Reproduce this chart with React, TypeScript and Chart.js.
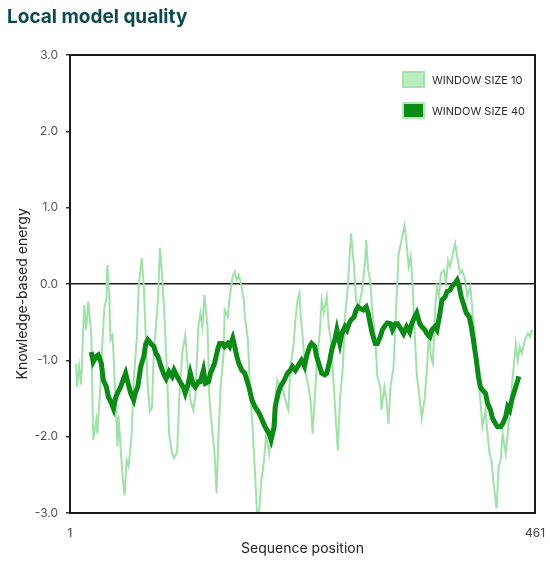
import React, { useEffect, useRef } from "react";
import { Chart, registerables } from "chart.js";

Chart.register(...registerables);

// sequence positions / energies
const win10Pos = [
  7, 8, 10, 12, 15, 17, 19, 22, 24, 27, 28, 31, 33, 35, 37, 38, 40, 41, 43, 44,
  46, 48, 49, 51, 53, 55, 57, 59, 62, 64, 67, 69, 72, 74, 76, 78, 80, 82, 84, 86,
  88, 90, 92, 94, 97, 99, 102, 104, 107, 109, 112, 115, 118, 120, 123, 125, 128, 130, 132, 134,
  137, 139, 142, 144, 146, 148, 150, 153, 154, 157, 159, 162, 164, 166, 168, 170, 173, 174, 177, 179,
  182, 184, 186, 188, 190, 193, 195, 198, 200, 203, 206, 209, 211, 214, 217, 219, 222, 224, 226, 228,
  229, 232, 234, 237, 239, 241, 243, 245, 248, 250, 252, 255, 257, 259, 262, 264, 266, 268, 271, 273,
  275, 277, 279, 282, 284, 286, 288, 290, 293, 294, 296, 298, 300, 303, 305, 308, 309, 312, 314, 316,
  318, 321, 324, 326, 329, 332, 334, 336, 338, 340, 342, 344, 347, 349, 352, 354, 356, 358, 360, 362,
  364, 366, 368, 371, 373, 375, 377, 379, 382, 384, 387, 389, 392, 394, 397, 399, 402, 404, 407, 409,
  412, 414, 416, 418, 420, 423, 425, 427, 429, 432, 434, 436, 438, 440, 442, 444, 446, 448, 451, 454,
  456, 458,
];
const win10Energy = [
  -1.04, -1.35, -1.08, -1.32, -0.28, -0.6, -0.23, -0.64, -2.04, -1.78, -1.96, -1.35, -0.78, -0.3, -0.21, 0.25, -0.21, -0.73, -0.67, -0.9,
  -1.52, -2.13, -1.72, -2.13, -2.52, -2.77, -2.31, -2.39, -1.96, -1.26, -0.73, -0.03, 0.34, -0.03, -0.73, -1.35, -1.67, -1.63, -0.86, -0.56,
  -0.21, 0.47, 0.14, -0.3, -1.17, -1.96, -2.22, -2.28, -2.2, -1.52, -0.91, -0.67, -1.17, -1.52, -1.65, -1.48, -0.56, -0.38, -0.56, -0.14,
  -0.56, -1.52, -1.96, -2.22, -2.74, -1.96, -1.35, -0.91, -0.34, -0.43, -0.17, 0.1, 0.16, 0.05, 0.12, 0.01, -0.21, -0.43, -0.73, -1.35,
  -1.96, -2.48, -2.98, -3.0, -2.61, -2.31, -1.96, -2.22, -1.96, -1.61, -1.26, -1.35, -1.35, -1.52, -1.65, -1.08, -0.82, -0.47, -0.21, -0.12,
  -0.38, -0.82, -1.17, -1.35, -1.52, -1.96, -1.52, -1.08, -0.65, -0.21, -0.38, -0.17, -0.56, -0.73, -1.35, -1.78, -2.18, -1.52, -1.08, -0.43,
  -0.17, 0.23, 0.66, 0.23, -0.21, -0.34, -0.21, -0.08, 0.31, 0.58, 0.18, 0.05, -0.34, -0.73, -1.21, -1.35, -1.65, -1.35, -1.52, -1.83,
  -1.35, -1.1, -0.2, 0.38, 0.58, 0.77, 0.53, 0.23, 0.36, -0.03, -0.65, -1.17, -1.52, -1.76, -1.48, -1.13, -0.65, -0.95, -1.04, -0.38,
  -0.03, -0.17, 0.14, 0.18, 0.01, 0.31, 0.23, 0.36, 0.53, 0.36, 0.14, 0.18, 0.05, -0.17, -0.03, -0.34, -0.73, -1.21, -1.52, -1.87,
  -1.65, -1.96, -2.22, -2.31, -2.61, -2.94, -2.39, -2.31, -1.96, -2.22, -1.96, -1.69, -1.35, -1.08, -0.78, -1.0, -0.82, -0.91, -0.73, -0.65,
  -0.69, -0.6,
];

const win40Pos = [
  22, 24, 27, 29, 32, 34, 37, 39, 42, 44, 46, 48, 51, 54, 56, 58, 61, 64, 66, 68,
  71, 74, 76, 78, 81, 84, 86, 88, 91, 94, 96, 99, 102, 104, 107, 109, 113, 115, 118, 120,
  123, 125, 128, 130, 133, 135, 138, 140, 144, 147, 149, 152, 154, 157, 159, 162, 164, 166, 168, 171,
  174, 176, 178, 181, 184, 188, 191, 194, 198, 200, 203, 204, 207, 209, 213, 216, 219, 221, 224, 228,
  230, 233, 235, 238, 240, 243, 245, 248, 250, 253, 255, 258, 260, 263, 265, 268, 270, 273, 275, 277,
  279, 282, 284, 286, 288, 291, 294, 296, 298, 300, 303, 305, 308, 310, 313, 315, 318, 320, 323, 325,
  328, 331, 334, 337, 339, 342, 344, 347, 349, 352, 354, 357, 359, 362, 364, 367, 369, 372, 374, 377,
  379, 382, 384, 386, 388, 390, 393, 396, 398, 400, 403, 405, 407, 409, 412, 414, 417, 419, 422, 424,
  427, 429, 432, 434, 436, 438, 441, 444, 445,
];
const win40Energy = [
  -0.89, -1.02, -0.95, -0.93, -1.04, -1.26, -1.35, -1.48, -1.56, -1.63, -1.5, -1.43, -1.35, -1.24, -1.17, -1.28, -1.43, -1.52, -1.41, -1.35,
  -1.08, -0.95, -0.78, -0.73, -0.78, -0.82, -0.91, -0.95, -1.08, -1.19, -1.24, -1.15, -1.21, -1.13, -1.21, -1.26, -1.35, -1.43, -1.3, -1.17,
  -1.32, -1.35, -1.28, -1.28, -1.13, -1.3, -1.28, -1.17, -1.04, -0.86, -0.78, -0.78, -0.82, -0.78, -0.82, -0.71, -0.82, -0.95, -1.04, -1.13,
  -1.17, -1.26, -1.35, -1.52, -1.61, -1.69, -1.78, -1.87, -1.96, -2.04, -1.87, -1.61, -1.43, -1.35, -1.26, -1.17, -1.13, -1.08, -1.13, -1.04,
  -1.0, -1.08, -0.95, -0.82, -0.78, -0.82, -0.95, -1.08, -1.17, -1.19, -1.17, -1.0, -0.86, -0.73, -0.6, -0.78, -0.65, -0.56, -0.6, -0.52,
  -0.47, -0.43, -0.34, -0.3, -0.32, -0.34, -0.3, -0.38, -0.52, -0.65, -0.78, -0.78, -0.69, -0.6, -0.54, -0.51, -0.52, -0.6, -0.52, -0.52,
  -0.58, -0.65, -0.56, -0.63, -0.52, -0.43, -0.38, -0.52, -0.56, -0.6, -0.65, -0.69, -0.6, -0.56, -0.6, -0.38, -0.21, -0.17, -0.1, -0.08,
  -0.03, 0.01, 0.05, -0.03, -0.17, -0.25, -0.38, -0.43, -0.56, -0.73, -1.0, -1.21, -1.35, -1.39, -1.43, -1.56, -1.65, -1.76, -1.83, -1.87,
  -1.87, -1.83, -1.74, -1.61, -1.65, -1.52, -1.39, -1.26, -1.21,
];

const xTicks = [1, 461];
const yTicks = [-3, -2, -1, 0, 1, 2, 3];

const LIGHT = "#a0e1aa";
const DARK = "#0b8a16";
const FRAME = "#1a1a1a";
const FONT = "Inter, 'Noto Sans', sans-serif";

// black frame round the plot area
const framePlugin = {
  id: "frameBox",
  afterDraw(chart: any) {
    const { ctx, chartArea } = chart;
    if (!chartArea) return;
    const { left, top, right, bottom } = chartArea;
    ctx.save();
    ctx.strokeStyle = FRAME;
    ctx.lineWidth = 2;
    ctx.strokeRect(left, top, right - left, bottom - top);
    ctx.restore();
  },
};

const LocalQualityChart: React.FC = () => {
  const canvasRef = useRef<HTMLCanvasElement | null>(null);

  useEffect(() => {
    if (!canvasRef.current) return;
    const chart = new Chart(canvasRef.current, {
      type: "line",
      data: {
        datasets: [
          {
            label: "Window size 40",
            data: win40Pos.map((x, i) => ({ x, y: win40Energy[i] })),
            borderColor: DARK,
            borderWidth: 5,
            pointRadius: 0,
            order: 1,
          },
          {
            label: "Window size 10",
            data: win10Pos.map((x, i) => ({ x, y: win10Energy[i] })),
            borderColor: LIGHT,
            borderWidth: 2,
            pointRadius: 0,
            order: 2,
          },
        ],
      },
      plugins: [framePlugin],
      options: {
        responsive: false,
        animation: false,
        layout: { padding: { top: 55, right: 15, bottom: 0, left: 0 } },
        plugins: {
          legend: { display: false },
          tooltip: { enabled: false },
        },
        scales: {
          x: {
            type: "linear",
            min: 1,
            max: 461,
            afterBuildTicks: (scale: any) => {
              scale.ticks = xTicks.map((value) => ({ value }));
            },
            afterFit: (scale: any) => {
              scale.height = 49;
              scale.paddingLeft = 0;
              scale.paddingRight = 0;
            },
            grid: { display: false, drawTicks: false },
            border: { display: true, color: FRAME, width: 2 },
            ticks: {
              padding: 13,
              maxRotation: 0,
              color: "#444",
              font: { family: FONT, size: 12 },
            },
            title: {
              display: true,
              text: "Sequence position",
              color: "#222",
              font: { family: FONT, size: 14 },
              padding: { top: 0, bottom: 5 },
            },
          },
          y: {
            min: -3,
            max: 3,
            afterBuildTicks: (scale: any) => {
              scale.ticks = yTicks.map((value) => ({ value }));
            },
            afterFit: (scale: any) => {
              scale.width = 70;
            },
            grid: {
              color: (c: any) => (c.tick && c.tick.value === 0 ? FRAME : "rgba(0,0,0,0)"),
              lineWidth: 1.5,
              tickColor: "#333",
              tickWidth: 1.5,
              tickLength: 4,
            },
            border: { display: true, color: FRAME, width: 2 },
            ticks: {
              padding: 8,
              color: "#555",
              font: { family: FONT, size: 12 },
              callback: (v: any) => Number(v).toFixed(1),
            },
            title: {
              display: true,
              text: "Knowledge-based energy     ",
              color: "#222",
              font: { family: FONT, size: 14 },
              padding: { top: 14, bottom: 0 },
            },
          },
        },
      },
    });
    return () => chart.destroy();
  }, []);

  return <canvas ref={canvasRef} width={550} height={562} style={{ position: "absolute", left: 0, top: 0 }} />;
};

const legendRow = (top: number, fill: string, border: string, text: string) => (
  <div style={{ position: "absolute", left: 402, top, display: "flex", alignItems: "center", height: 17 }}>
    <span
      style={{
        display: "inline-block",
        width: 19,
        height: 13,
        background: fill,
        border: `2px solid ${border}`,
        marginRight: 7,
      }}
    />
    <span style={{ fontFamily: FONT, fontSize: 11, color: "#2b2b2b", whiteSpace: "nowrap" }}>{text}</span>
  </div>
);

export default function App() {
  return (
    <div style={{ position: "absolute", left: 0, top: 0, width: 550, height: 562, background: "#fff", overflow: "hidden" }}>
      <LocalQualityChart />
      {/* frame over the plot area, matches the chart area (70,55)-(535,513) */}
      <div
        style={{
          position: "absolute",
          left: 69,
          top: 54,
          width: 467,
          height: 460,
          boxSizing: "border-box",
          border: `2px solid ${FRAME}`,
          pointerEvents: "none",
        }}
      />
      <div
        style={{
          position: "absolute",
          left: 7,
          top: 5,
          fontFamily: FONT,
          fontWeight: 700,
          fontSize: 19,
          color: "#0e4a50",
        }}
      >
        Local model quality
      </div>
      {legendRow(71, "#b9ecc1", "#a9e2b1", "WINDOW SIZE 10")}
      {legendRow(102, DARK, "#b4e6ba", "WINDOW SIZE 40")}
    </div>
  );
}
